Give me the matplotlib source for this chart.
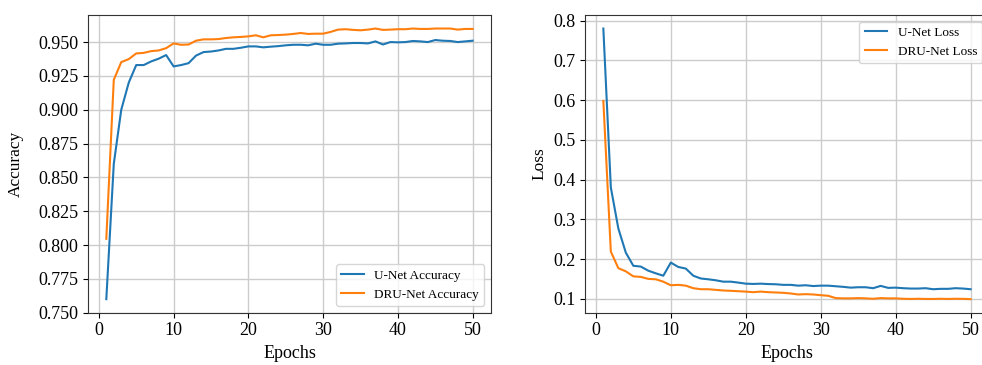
import numpy as np
import matplotlib
matplotlib.use("Agg")
import matplotlib.pyplot as plt

plt.rcParams['font.family'] = ['Liberation Serif', 'DejaVu Serif']

epochs = np.arange(1, 51)

unet_acc = [0.760, 0.860, 0.900, 0.920, 0.933, 0.933, 0.9357, 0.9377, 0.9404, 0.932,
            0.933, 0.9344, 0.940, 0.9426, 0.943, 0.9438, 0.945, 0.945, 0.9458, 0.9468,
            0.9468, 0.9461, 0.9466, 0.947, 0.9476, 0.948, 0.948, 0.9476, 0.9488, 0.948,
            0.948, 0.9488, 0.949, 0.9493, 0.9493, 0.949, 0.9505, 0.9482, 0.950, 0.9498,
            0.950, 0.9508, 0.9505, 0.950, 0.9515, 0.951, 0.9508, 0.950, 0.9505, 0.951]
dru_acc = [0.8046, 0.9221, 0.9352, 0.9374, 0.9416, 0.942, 0.9433, 0.9438, 0.9455, 0.949,
           0.948, 0.9482, 0.951, 0.952, 0.952, 0.9522, 0.953, 0.9535, 0.9538, 0.9542,
           0.955, 0.9535, 0.955, 0.9552, 0.9555, 0.956, 0.9567, 0.956, 0.9562, 0.9562,
           0.9575, 0.9592, 0.9595, 0.959, 0.9587, 0.9592, 0.960, 0.959, 0.9592, 0.9595,
           0.9595, 0.960, 0.9597, 0.9597, 0.960, 0.960, 0.960, 0.9592, 0.9597, 0.9597]

unet_loss = [0.780, 0.380, 0.277, 0.216, 0.183, 0.181, 0.1706, 0.164, 0.158, 0.191,
             0.180, 0.176, 0.158, 0.151, 0.149, 0.1465, 0.143, 0.143, 0.1407, 0.138,
             0.1373, 0.138, 0.137, 0.1365, 0.135, 0.135, 0.133, 0.134, 0.132, 0.133,
             0.133, 0.1315, 0.130, 0.128, 0.129, 0.129, 0.1266, 0.1324, 0.1274, 0.128,
             0.1266, 0.1257, 0.1257, 0.1266, 0.124, 0.125, 0.125, 0.1266, 0.1257, 0.124]
dru_loss = [0.598, 0.2187, 0.177, 0.169, 0.1564, 0.155, 0.150, 0.149, 0.143, 0.134,
            0.135, 0.133, 0.1266, 0.124, 0.124, 0.1224, 0.1208, 0.120, 0.119, 0.118,
            0.1166, 0.118, 0.1166, 0.1158, 0.115, 0.1133, 0.1108, 0.1116, 0.1108, 0.109,
            0.1075, 0.1017, 0.101, 0.101, 0.1017, 0.101, 0.100, 0.1017, 0.101, 0.101,
            0.100, 0.0995, 0.100, 0.0995, 0.0995, 0.100, 0.0995, 0.100, 0.0998, 0.099]

fig = plt.figure(figsize=(9.82, 3.65), dpi=100)
ax1 = fig.add_axes([0.0896, 0.1433, 0.4104, 0.8156])
ax2 = fig.add_axes([0.5957, 0.1433, 0.4114, 0.8156])

ax1.plot(epochs, unet_acc, color='#1f77b4', label='U-Net Accuracy')
ax1.plot(epochs, dru_acc, color='#ff7f0e', label='DRU-Net Accuracy')
ax1.set_xlabel('Epochs', fontsize=13)
ax1.set_ylabel('Accuracy', fontsize=12.5, labelpad=10)
ax1.set_yticks(np.arange(0.75, 0.951, 0.025))
ax1.legend(loc='lower right', fontsize=9.5, handlelength=1.7)

ax2.plot(epochs, unet_loss, color='#1f77b4', label='U-Net Loss')
ax2.plot(epochs, dru_loss, color='#ff7f0e', label='DRU-Net Loss')
ax2.set_xlabel('Epochs', fontsize=13)
ax2.set_ylabel('Loss', fontsize=12.5)
ax2.legend(loc='upper right', fontsize=9.5, handlelength=1.7)

for ax in (ax1, ax2):
    ax.grid(True, color='#cccccc', linewidth=1.0)
    ax.tick_params(labelsize=13)
    for s in ax.spines.values():
        s.set_color('#333333')

fig.savefig('out.png', dpi=100)
